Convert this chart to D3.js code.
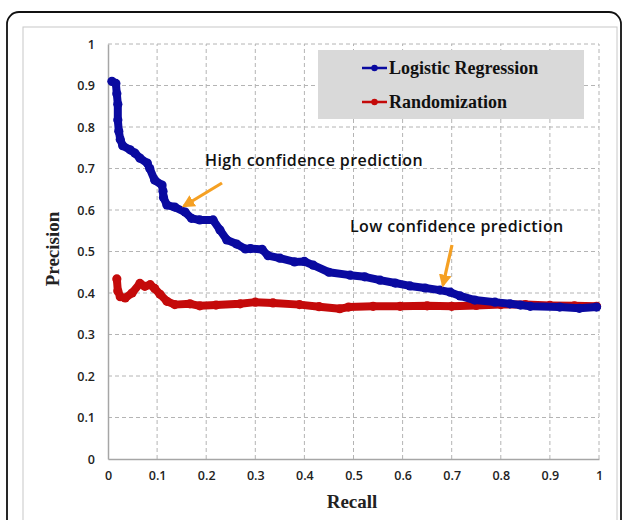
<!DOCTYPE html>
<html>
<head>
<meta charset="utf-8">
<script src="https://cdn.jsdelivr.net/npm/d3@7"></script>
<style>
  body { margin: 0; background: #fff; }
  svg { display: block; }
</style>
</head>
<body>
<svg id="chart" width="625" height="520"></svg>
<script>
// recall / precision pairs
const logisticRecall = [0.008, 0.016, 0.018, 0.02, 0.02, 0.022, 0.025, 0.03, 0.045, 0.055, 0.065, 0.08, 0.085, 0.095, 0.11, 0.112, 0.113, 0.12, 0.136, 0.157, 0.17, 0.187, 0.214, 0.228, 0.242, 0.262, 0.28, 0.29, 0.314, 0.326, 0.35, 0.38, 0.4, 0.418, 0.45, 0.493, 0.523, 0.554, 0.585, 0.615, 0.646, 0.676, 0.697, 0.717, 0.747, 0.788, 0.819, 0.84, 0.86, 0.92, 0.96, 0.995];
const logisticPrecision = [0.91, 0.905, 0.88, 0.855, 0.817, 0.79, 0.77, 0.755, 0.745, 0.737, 0.725, 0.713, 0.70, 0.672, 0.66, 0.645, 0.63, 0.612, 0.607, 0.595, 0.58, 0.576, 0.576, 0.552, 0.528, 0.518, 0.506, 0.507, 0.505, 0.49, 0.484, 0.475, 0.476, 0.467, 0.45, 0.443, 0.439, 0.431, 0.424, 0.417, 0.412, 0.407, 0.402, 0.393, 0.383, 0.378, 0.374, 0.371, 0.368, 0.366, 0.363, 0.366];

const randomRecall = [0.018, 0.02, 0.025, 0.035, 0.049, 0.065, 0.075, 0.086, 0.095, 0.106, 0.12, 0.136, 0.167, 0.187, 0.22, 0.269, 0.30, 0.336, 0.39, 0.43, 0.472, 0.49, 0.54, 0.595, 0.65, 0.70, 0.75, 0.80, 0.85, 0.90, 0.95, 0.995];
const randomPrecision = [0.434, 0.405, 0.391, 0.388, 0.4, 0.423, 0.416, 0.42, 0.411, 0.397, 0.38, 0.372, 0.374, 0.369, 0.371, 0.374, 0.378, 0.376, 0.372, 0.367, 0.362, 0.366, 0.368, 0.368, 0.369, 0.368, 0.37, 0.372, 0.372, 0.37, 0.369, 0.368];

const xTicks = [0, 0.1, 0.2, 0.3, 0.4, 0.5, 0.6, 0.7, 0.8, 0.9, 1];
const yTicks = [0, 0.1, 0.2, 0.3, 0.4, 0.5, 0.6, 0.7, 0.8, 0.9, 1];
const seriesNames = ["Logistic Regression", "Randomization"];
const seriesColors = ["#0a0aa0", "#c40a0a"];

const svg = d3.select("#chart");

// outer and inner frames
svg.append("rect")
    .attr("x", 7).attr("y", 12).attr("width", 614).attr("height", 540)
    .attr("rx", 12)
    .attr("fill", "none").attr("stroke", "#111").attr("stroke-width", 1.8);
svg.append("rect")
    .attr("x", 23).attr("y", 27).attr("width", 594).attr("height", 520)
    .attr("fill", "none").attr("stroke", "#c8c8c8").attr("stroke-width", 1);

const x = d3.scaleLinear().domain([0, 1]).range([108, 599]);
const y = d3.scaleLinear().domain([0, 1]).range([459, 44]);

const g = svg.append("g");

// dashed grid
g.selectAll("line.hgrid")
    .data(yTicks.filter(d => d > 0))
    .enter().append("line")
    .attr("class", "hgrid")
    .attr("x1", x(0)).attr("x2", x(1))
    .attr("y1", d => y(d)).attr("y2", d => y(d))
    .attr("stroke", "#b4b4b4").attr("stroke-dasharray", "4,3");
g.selectAll("line.vgrid")
    .data(xTicks.filter(d => d > 0))
    .enter().append("line")
    .attr("class", "vgrid")
    .attr("x1", d => x(d)).attr("x2", d => x(d))
    .attr("y1", y(0)).attr("y2", y(1))
    .attr("stroke", "#b4b4b4").attr("stroke-dasharray", "4,3");

// axes
const xAxis = d3.axisBottom(x).tickValues(xTicks).tickSize(0).tickPadding(12)
    .tickFormat(d => d === 0 || d === 1 ? String(d) : d3.format(".1f")(d));
const yAxis = d3.axisLeft(y).tickValues(yTicks).tickSize(0).tickPadding(13)
    .tickFormat(d => d === 0 || d === 1 ? String(d) : d3.format(".1f")(d));

const gx = g.append("g").attr("transform", `translate(0,${y(0)})`).call(xAxis);
const gy = g.append("g").attr("transform", `translate(${x(0)},0)`).call(yAxis);
[gx, gy].forEach(a => {
    a.select(".domain").attr("stroke", "#a6a6a6").attr("stroke-width", 1.5);
    a.selectAll("text")
        .attr("font-family", "'Open Sans', sans-serif")
        .attr("font-weight", 600)
        .attr("font-size", 12.5)
        .attr("fill", "#222");
});

// axis titles
svg.append("text")
    .attr("x", 352).attr("y", 508)
    .attr("text-anchor", "middle")
    .attr("font-family", "'Liberation Serif', serif").attr("font-weight", "bold")
    .attr("font-size", 19).attr("fill", "#222")
    .text("Recall");
svg.append("text")
    .attr("transform", "translate(59,249) rotate(-90)")
    .attr("text-anchor", "middle")
    .attr("font-family", "'Liberation Serif', serif").attr("font-weight", "bold")
    .attr("font-size", 19).attr("fill", "#222")
    .text("Precision");

// series
const series = [
    { name: seriesNames[0], color: seriesColors[0], pts: logisticRecall.map((r, i) => [r, logisticPrecision[i]]) },
    { name: seriesNames[1], color: seriesColors[1], pts: randomRecall.map((r, i) => [r, randomPrecision[i]]) }
];
const line = d3.line().x(d => x(d[0])).y(d => y(d[1]));

series.slice().reverse().forEach(s => {
    g.append("path")
        .datum(s.pts)
        .attr("d", line)
        .attr("fill", "none")
        .attr("stroke", s.color)
        .attr("stroke-width", 8)
        .attr("stroke-linejoin", "round")
        .attr("stroke-linecap", "round");
    g.selectAll(null)
        .data(s.pts)
        .enter().append("circle")
        .attr("cx", d => x(d[0]))
        .attr("cy", d => y(d[1]))
        .attr("r", 4.6)
        .attr("fill", s.color);
});

// legend
const legend = svg.append("g");
legend.append("rect")
    .attr("x", 318).attr("y", 50).attr("width", 266).attr("height", 69)
    .attr("fill", "#d9d9d9");
series.forEach((s, i) => {
    const ly = 68 + i * 34;
    legend.append("line")
        .attr("x1", 362).attr("x2", 387).attr("y1", ly).attr("y2", ly)
        .attr("stroke", s.color).attr("stroke-width", 2.5);
    legend.append("circle")
        .attr("cx", 374.5).attr("cy", ly).attr("r", 3.2).attr("fill", s.color);
    legend.append("text")
        .attr("x", 389).attr("y", ly + 6)
        .attr("font-family", "'Liberation Serif', serif").attr("font-weight", "bold")
        .attr("font-size", 18).attr("fill", "#111")
        .text(s.name);
});

// annotations
const arrowColor = "#f5a023";
svg.append("defs").append("marker")
    .attr("id", "head")
    .attr("viewBox", "0 0 10 10")
    .attr("refX", 8).attr("refY", 5)
    .attr("markerWidth", 4).attr("markerHeight", 4)
    .attr("orient", "auto")
    .append("path").attr("d", "M0,0 L10,5 L0,10 Z").attr("fill", arrowColor);

svg.append("text")
    .attr("x", 205).attr("y", 166)
    .attr("font-family", "'Open Sans', sans-serif").attr("font-weight", 600)
    .attr("font-size", 16).attr("letter-spacing", 0.4).attr("fill", "#111")
    .text("High confidence prediction");
svg.append("line")
    .attr("x1", 222).attr("y1", 183).attr("x2", 184).attr("y2", 206)
    .attr("stroke", arrowColor).attr("stroke-width", 3.2)
    .attr("marker-end", "url(#head)");

svg.append("text")
    .attr("x", 350).attr("y", 232)
    .attr("font-family", "'Open Sans', sans-serif").attr("font-weight", 600)
    .attr("font-size", 16).attr("letter-spacing", 0.4).attr("fill", "#111")
    .text("Low confidence prediction");
svg.append("line")
    .attr("x1", 452).attr("y1", 245).attr("x2", 443).attr("y2", 285)
    .attr("stroke", arrowColor).attr("stroke-width", 3.2)
    .attr("marker-end", "url(#head)");
</script>
</body>
</html>
